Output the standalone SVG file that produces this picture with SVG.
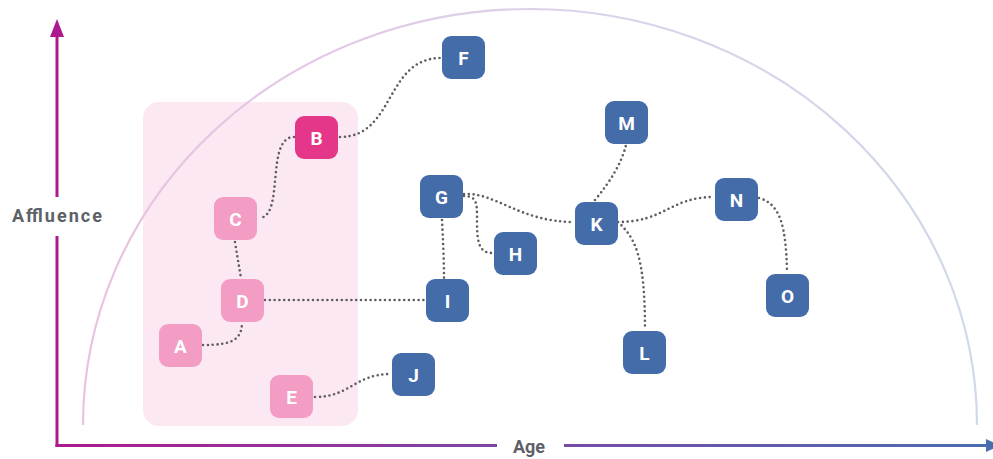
<svg xmlns="http://www.w3.org/2000/svg" width="993" height="459" viewBox="0 0 993 459">
  <defs>
    <linearGradient id="arcGrad" x1="83" y1="0" x2="977" y2="0" gradientUnits="userSpaceOnUse">
      <stop offset="0" stop-color="#e8c3e0"/>
      <stop offset="0.5" stop-color="#dcd0e8"/>
      <stop offset="1" stop-color="#d0d9ea"/>
    </linearGradient>
    <linearGradient id="axisGrad" x1="56" y1="0" x2="993" y2="0" gradientUnits="userSpaceOnUse">
      <stop offset="0" stop-color="#ad1a8d"/>
      <stop offset="0.5" stop-color="#7a48a6"/>
      <stop offset="1" stop-color="#4a6db0"/>
    </linearGradient>
    <style>
      .node rect { rx: 9px; ry: 9px; }
      .pink rect { fill: #f39dc5; }
      .hot rect { fill: #e5378a; }
      .blue rect { fill: #436ca9; }
      .node text { font-family: Roboto, "Liberation Sans", sans-serif; font-weight: 700; font-size: 19px; fill: #ffffff; text-anchor: middle; }
      .conn path { fill: none; stroke: #5d5d62; stroke-width: 2.6; stroke-linecap: round; stroke-dasharray: 0 4.8; }
      .axis-label { font-family: Roboto, "Liberation Sans", sans-serif; font-weight: 700; font-size: 18px; fill: #5d6167; }
    </style>
  </defs>

  <!-- background -->
  <rect x="0" y="0" width="993" height="459" fill="#ffffff"/>

  <!-- highlight region -->
  <rect id="region" x="143" y="102" width="215" height="324" rx="16" ry="16" fill="#fce8f2"/>

  <!-- arc -->
  <path id="arc" d="M83,425 A447,416 0 0 1 977,425" fill="none" stroke="url(#arcGrad)" stroke-width="2.2"/>

  <!-- axes -->
  <g id="axes">
    <line x1="57" y1="36" x2="57" y2="197" stroke="#ad1a8d" stroke-width="3"/>
    <line x1="57" y1="236" x2="57" y2="447" stroke="#ad1a8d" stroke-width="3"/>
    <polygon points="57,19 50,37 64,37" fill="#ad1a8d"/>
    <line x1="55.5" y1="445.5" x2="497" y2="445.5" stroke="url(#axisGrad)" stroke-width="3"/>
    <line x1="564" y1="445.5" x2="988" y2="445.5" stroke="url(#axisGrad)" stroke-width="3"/>
    <polygon points="1000,445.5 986,439 986,452" fill="#4a6db0"/>
    <text class="axis-label" x="12" y="222" textLength="90" lengthAdjust="spacing">Affluence</text>
    <text class="axis-label" x="513" y="453" textLength="32" lengthAdjust="spacing">Age</text>
  </g>

  <!-- connectors -->
  <g id="connectors" class="conn">
    <path d="M340,137 C395,137 385,58 441,58"/>
    <path d="M294,137 C265,137 285,218 259,218"/>
    <path d="M235,242 C237,255 239,266 241,278"/>
    <path d="M203,345 C232,345 242,340 242,322"/>
    <path d="M265,300 L425,300"/>
    <path d="M315,397 C350,397 355,374 391,374"/>
    <path d="M442,220 C443,240 444,260 444,278"/>
    <path d="M464,196 C478,196 477,205 477,222 C477,245 480,253 493,253"/>
    <path d="M464,194 C495,192 520,222 574,222"/>
    <path d="M595,200 Q620,170 626,145"/>
    <path d="M618,222 C665,222 670,197 714,197"/>
    <path d="M618,222 C635,238 645,255 645,330"/>
    <path d="M759,198 C780,204 786,225 787,272"/>
  </g>

  <!-- nodes -->
  <g id="node-A" class="node pink"><rect x="159" y="324" width="43" height="43"/><text x="180.5" y="352.5">A</text></g>
  <g id="node-B" class="node hot"><rect x="295" y="116" width="43" height="43"/><text x="316.5" y="144.5">B</text></g>
  <g id="node-C" class="node pink"><rect x="214" y="197" width="43" height="43"/><text x="235.5" y="225.5">C</text></g>
  <g id="node-D" class="node pink"><rect x="221" y="279" width="43" height="43"/><text x="242.5" y="307.5">D</text></g>
  <g id="node-E" class="node pink"><rect x="270" y="375" width="43" height="43"/><text x="291.5" y="403.5">E</text></g>
  <g id="node-F" class="node blue"><rect x="442" y="36" width="43" height="43"/><text x="463.5" y="64.5">F</text></g>
  <g id="node-G" class="node blue"><rect x="420" y="175" width="43" height="43"/><text x="441.5" y="203.5">G</text></g>
  <g id="node-H" class="node blue"><rect x="494" y="232" width="43" height="43"/><text x="515.5" y="260.5">H</text></g>
  <g id="node-I" class="node blue"><rect x="426" y="279" width="43" height="43"/><text x="447.5" y="307.5">I</text></g>
  <g id="node-J" class="node blue"><rect x="392" y="353" width="43" height="43"/><text x="413.5" y="381.5">J</text></g>
  <g id="node-K" class="node blue"><rect x="575" y="202" width="43" height="43"/><text x="596.5" y="230.5">K</text></g>
  <g id="node-L" class="node blue"><rect x="623" y="331" width="43" height="43"/><text x="644.5" y="359.5">L</text></g>
  <g id="node-M" class="node blue"><rect x="605" y="101" width="43" height="43"/><text x="626.5" y="129.5">M</text></g>
  <g id="node-N" class="node blue"><rect x="715" y="178" width="43" height="43"/><text x="736.5" y="206.5">N</text></g>
  <g id="node-O" class="node blue"><rect x="766" y="274" width="43" height="43"/><text x="787.5" y="302.5">O</text></g>
</svg>
